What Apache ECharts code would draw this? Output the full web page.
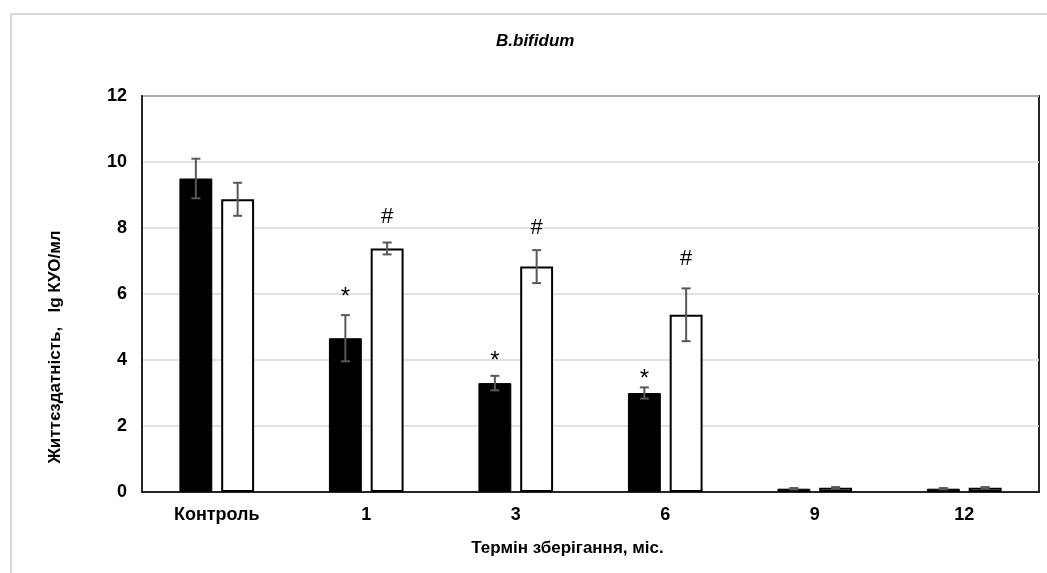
<!DOCTYPE html>
<html>
<head>
<meta charset="utf-8">
<title>B.bifidum</title>
<script src="https://cdn.jsdelivr.net/npm/echarts@6/dist/echarts.min.js"></script>
<style>
  html, body { margin: 0; padding: 0; background: #fff; }
  #chart { width: 1047px; height: 573px; }
</style>
</head>
<body>
<div id="chart"></div>
<script>
  // categories (storage term, months)
  var categories = ['Контроль', '1', '3', '6', '9', '12'];

  // viability, lg CFU/ml
  var blackValues = [9.5, 4.66, 3.3, 3.0, 0.1, 0.1];
  var blackErrors = [0.6, 0.7, 0.22, 0.17, 0.02, 0.02];
  var whiteValues = [8.87, 7.38, 6.83, 5.37, 0.13, 0.13];
  var whiteErrors = [0.5, 0.18, 0.5, 0.8, 0.02, 0.02];

  // significance marks and the level they sit at
  var starLevels = [null, 6.04, 4.1, 3.56, null, null];
  var hashLevels = [null, 8.33, 7.99, 7.06, null, null];

  var yTicks = [0, 2, 4, 6, 8, 10, 12];

  var BAR_W = 0.22;   // fraction of the category band
  var BAR_GAP = 0.27; // fraction of bar width

  function barOffset(api, side) {
    var band = api.size([1, 0])[0];
    var w = band * BAR_W;
    return side * w * (1 + BAR_GAP) / 2;
  }

  function errorSeries(values, errors, side) {
    var data = values.map(function (v, i) { return [i, v, errors[i]]; });
    return {
      type: 'custom',
      z: 5,
      silent: true,
      data: data,
      renderItem: function (params, api) {
        var i = api.value(0), v = api.value(1), e = api.value(2);
        var top = api.coord([i, v + e]);
        var bot = api.coord([i, v - e]);
        var x = top[0] + barOffset(api, side);
        var cap = 4.5;
        var st = { stroke: '#595959', lineWidth: 2 };
        return {
          type: 'group',
          children: [
            { type: 'line', shape: { x1: x, y1: top[1], x2: x, y2: bot[1] }, style: st },
            { type: 'line', shape: { x1: x - cap, y1: top[1], x2: x + cap, y2: top[1] }, style: st },
            { type: 'line', shape: { x1: x - cap, y1: bot[1], x2: x + cap, y2: bot[1] }, style: st }
          ]
        };
      }
    };
  }

  function markSeries(levels, text, side, size, shiftY) {
    var data = [];
    levels.forEach(function (l, i) { if (l != null) data.push([i, l]); });
    return {
      type: 'custom',
      z: 6,
      silent: true,
      data: data,
      renderItem: function (params, api) {
        var p = api.coord([api.value(0), api.value(1)]);
        return {
          type: 'text',
          x: p[0] + barOffset(api, side),
          y: p[1] + shiftY,
          style: {
            text: text,
            fill: '#000',
            font: size + 'px "Liberation Sans", Arial, sans-serif',
            align: 'center',
            verticalAlign: 'middle'
          }
        };
      }
    };
  }

  var chart = echarts.init(document.getElementById('chart'));

  var option = {
    backgroundColor: '#fff',
    animation: false,
    textStyle: { fontFamily: '"Liberation Sans", Arial, sans-serif' },
    graphic: [
      {
        type: 'rect',
        shape: { x: 11, y: 14, width: 1100, height: 600 },
        style: { fill: 'none', stroke: '#d9d9d9', lineWidth: 2 },
        z: -1
      },
      {
        type: 'text',
        left: 496, top: 33,
        style: {
          text: 'B.bifidum',
          font: 'italic bold 17px "Liberation Sans", Arial, sans-serif',
          fill: '#000'
        }
      }
    ],
    grid: {
      left: 142, right: 8, top: 96, bottom: 81,
      show: true,
      borderColor: '#262626',
      borderWidth: 2,
      backgroundColor: 'transparent'
    },
    xAxis: {
      type: 'category',
      data: categories,
      name: 'Термін зберігання, міс.',
      nameLocation: 'middle',
      nameGap: 48,
      nameTextStyle: { fontSize: 17, fontWeight: 'bold', color: '#000', padding: [0, 0, 0, -46] },
      axisLine: { lineStyle: { color: '#262626', width: 2 } },
      axisTick: { show: false },
      axisLabel: { fontSize: 18, fontWeight: 'bold', color: '#000', margin: 14 }
    },
    yAxis: {
      type: 'value',
      min: 0, max: 12, interval: 2,
      name: 'Життєздатність,   lg КУО/мл',
      nameLocation: 'middle',
      nameGap: 78,
      nameTextStyle: { fontSize: 17, fontWeight: 'bold', color: '#000', padding: [0, 106, 0, 0] },
      axisLine: { show: true, lineStyle: { color: '#262626', width: 2 } },
      axisTick: { show: false },
      splitLine: { lineStyle: { color: '#d9d9d9', width: 1.5 } },
      axisLabel: {
        fontSize: 18, fontWeight: 'bold', color: '#000', margin: 15,
        formatter: function (v) { return yTicks.indexOf(v) >= 0 ? String(v) : ''; }
      }
    },
    series: [
      {
        type: 'bar',
        data: blackValues,
        barWidth: (BAR_W * 100) + '%',
        barGap: (BAR_GAP * 100) + '%',
        itemStyle: { color: '#000', borderColor: '#000', borderWidth: 1 }
      },
      {
        type: 'bar',
        data: whiteValues,
        barWidth: (BAR_W * 100) + '%',
        barGap: (BAR_GAP * 100) + '%',
        itemStyle: { color: '#fff', borderColor: '#000', borderWidth: 2 }
      },
      errorSeries(blackValues, blackErrors, -1),
      errorSeries(whiteValues, whiteErrors, 1),
      markSeries(starLevels, '*', -1, 24, 5),
      markSeries(hashLevels, '#', 1, 22, 0)
    ]
  };

  chart.setOption(option);
</script>
</body>
</html>
